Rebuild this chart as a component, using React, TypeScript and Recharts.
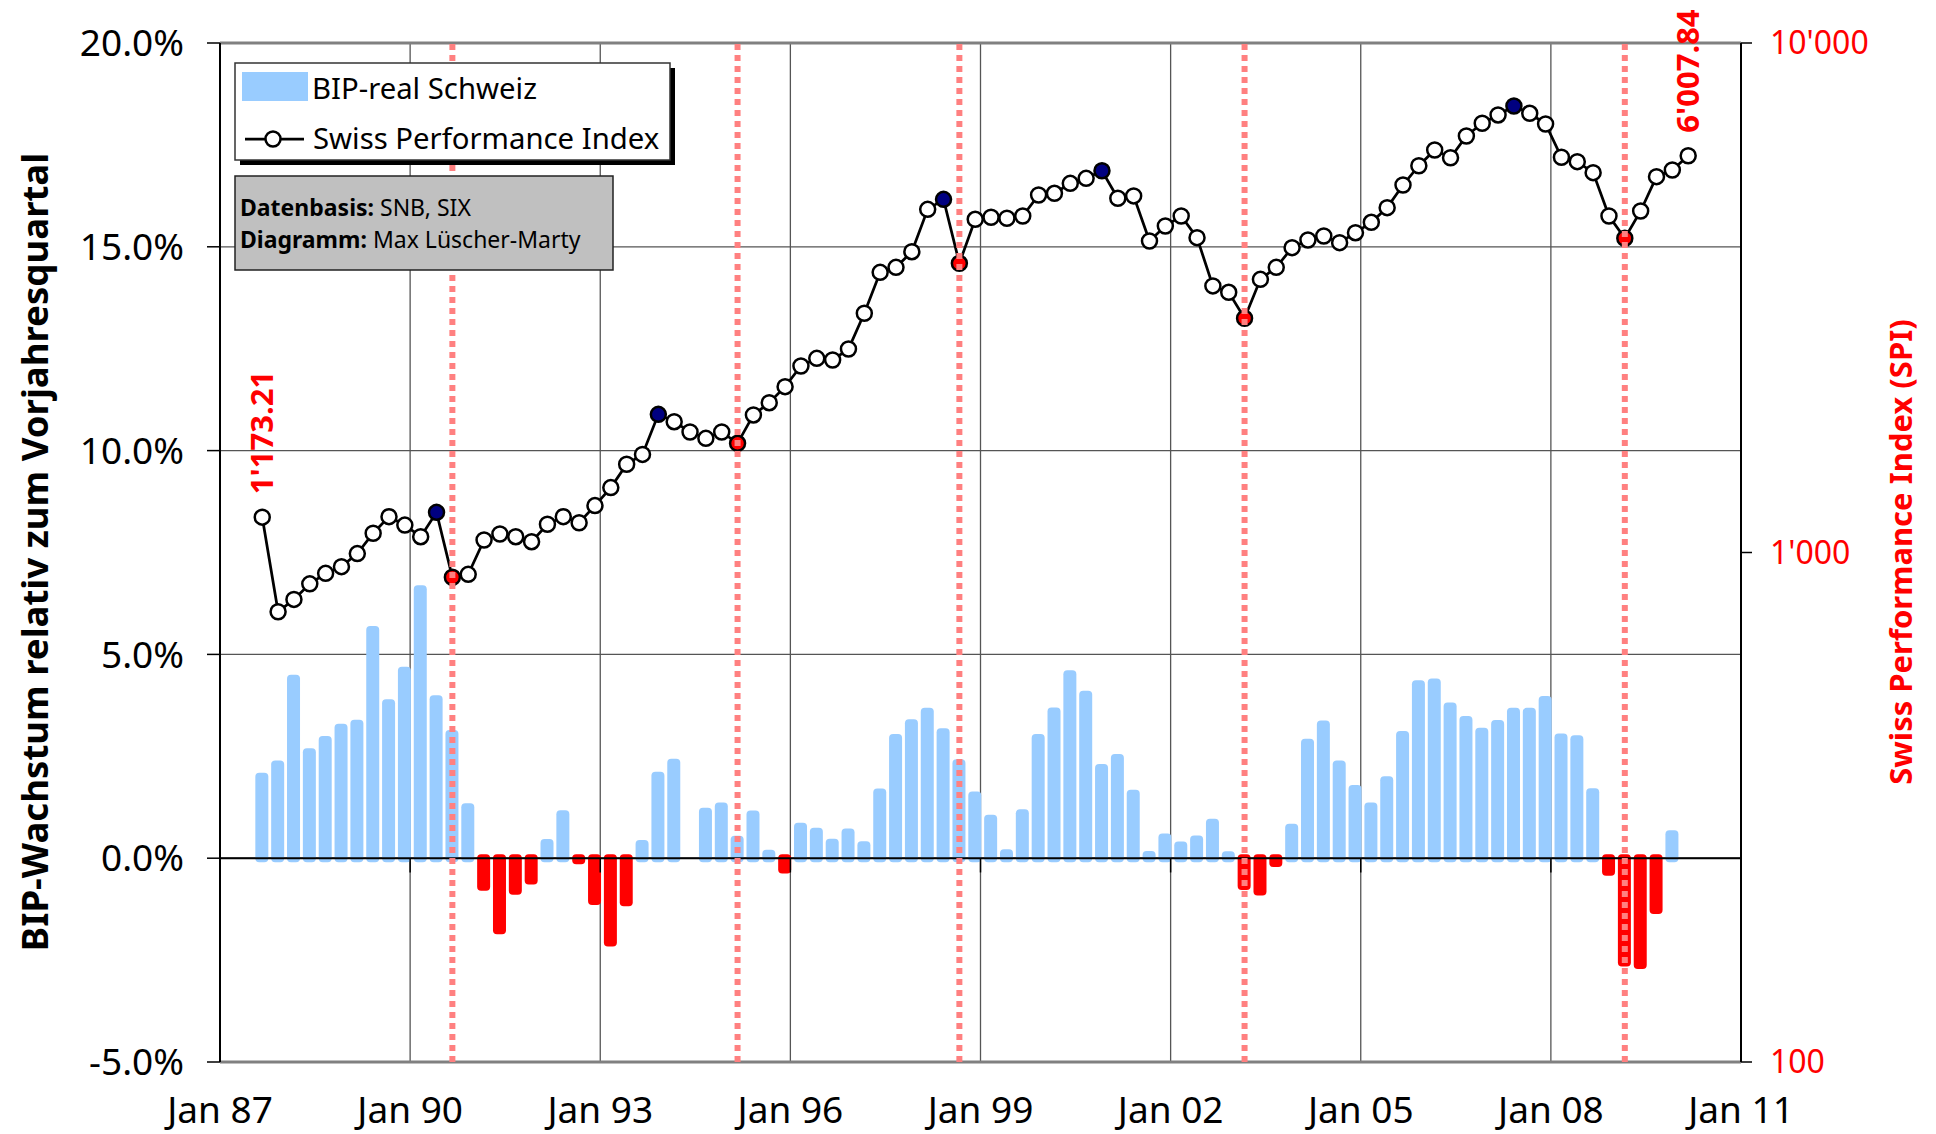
import React from "react";
import {
  Bar,
  CartesianGrid,
  ComposedChart,
  LabelList,
  Line,
  ReferenceLine,
  XAxis,
  YAxis
} from "recharts";

const FONT = "'Noto Sans', 'Open Sans', sans-serif";
const POS = "#99CCFF";
const NEG = "#FF0000";
const NAVY = "#000080";
const DASH = "#FF8080";

// first observation: Q3 1987, one point per quarter
const START = 1987 + 8 / 12;

// BIP-real Schweiz, Wachstum ggü. Vorjahresquartal in %
const gdpGrowth = [
  2.0, 2.3, 4.4, 2.6, 2.9, 3.2, 3.3, 5.6, 3.8, 4.6,
  6.6, 3.9, 3.05, 1.25, -0.7, -1.77, -0.8, -0.55, 0.37, 1.08,
  -0.05, -1.05, -2.07, -1.08, 0.35, 2.02, 2.34, 0, 1.14, 1.27,
  0.45, 1.07, 0.11, -0.28, 0.77, 0.65, 0.38, 0.63, 0.32, 1.61,
  2.95, 3.31, 3.59, 3.09, 2.33, 1.54, 0.97, 0.12, 1.1, 2.95,
  3.6, 4.51, 4.01, 2.21, 2.46, 1.58, 0.08, 0.51, 0.31, 0.46,
  0.87, 0.07, -0.68, -0.82, -0.12, 0.75, 2.83, 3.28, 2.3, 1.7,
  1.27, 1.91, 3.02, 4.27, 4.31, 3.72, 3.39, 3.1, 3.29, 3.59,
  3.59, 3.88, 2.96, 2.92, 1.62, -0.33, -2.56, -2.62, -1.27, 0.59
];

// Swiss Performance Index, Quartalsende
const spi = [
  1173.21, 765, 809, 868, 910, 938, 995, 1091, 1176, 1132,
  1074, 1199, 894, 906, 1058, 1087, 1074, 1050, 1136, 1176,
  1144, 1236, 1341, 1490, 1558, 1867, 1806, 1724, 1675, 1724,
  1638, 1862, 1968, 2116, 2323, 2405, 2387, 2508, 2948, 3547,
  3628, 3894, 4716, 4934, 3695, 4508, 4549, 4529, 4576, 5031,
  5070, 5303, 5424, 5614, 4957, 5010, 4087, 4373, 4576, 4149,
  3336, 3241, 2883, 3437, 3628, 3966, 4105, 4180, 4056, 4243,
  4447, 4752, 5264, 5743, 6166, 5954, 6569, 6957, 7224, 7521,
  7278, 6934, 5966, 5849, 5566, 4576, 4138, 4681, 5466, 5634,
  6007.84
];

const peakIdx = [11, 25, 43, 53, 79];
const troughIdx = [12, 30, 44, 62, 86];

const xTicks = [1987, 1990, 1993, 1996, 1999, 2002, 2005, 2008, 2011];
const pctTicks = [-5, 0, 5, 10, 15, 20];
const spiTicks = [100, 1000, 10000];

const data = spi.map((v, i) => ({
  t: START + i * 0.25,
  spi: v,
  gdp: i < gdpGrowth.length ? gdpGrowth[i] : null
}));

function swiss(v: number, digits = 0) {
  const [int, dec] = v.toFixed(digits).split(".");
  const grouped = int.replace(/\B(?=(\d{3})+(?!\d))/g, "'");
  return dec ? `${grouped}.${dec}` : grouped;
}

function GdpBar(props: any) {
  const { x, y, width, height, payload } = props;
  if (!payload || payload.gdp == null || payload.gdp === 0) return null;
  const top = Math.min(y, y + height);
  const h = Math.abs(height);
  return (
    <rect
      x={x - 2}
      y={top - 4}
      width={width + 4}
      height={h + 8}
      rx={4}
      fill={payload.gdp < 0 ? NEG : POS}
    />
  );
}

function SpiDot(props: any) {
  const { cx, cy, index } = props;
  const fill = peakIdx.includes(index) ? NAVY : troughIdx.includes(index) ? NEG : "#fff";
  return <circle key={`d${index}`} cx={cx} cy={cy} r={7.5} fill={fill} stroke="#000" strokeWidth={2.5} />;
}

function EndLabel(props: any) {
  const { x, y, value } = props;
  if (value !== spi[0] && value !== spi[spi.length - 1]) return null;
  return (
    <text
      transform={`translate(${x},${y - 23}) rotate(-90)`}
      dy="0.36em"
      textAnchor="start"
      fill={NEG}
      fontSize={31}
      fontWeight="bold"
      fontFamily={FONT}
    >
      {swiss(value, 2)}
    </text>
  );
}

export default function App() {
  return (
    <div style={{ position: "absolute", left: 0, top: 0, width: 1936, height: 1134, background: "#fff", fontFamily: FONT }}>
      <ComposedChart width={1936} height={1134} data={data} margin={{ top: 43, right: 20, left: 20, bottom: 0 }}>
        <CartesianGrid yAxisId="left" stroke="#555" strokeWidth={1.3} />
        <XAxis
          dataKey="t"
          type="number"
          domain={[1987, 2011]}
          ticks={xTicks}
          interval={0}
          tickFormatter={(v) => `Jan ${String(v).slice(2)}`}
          height={72}
          tickLine={false}
          tickMargin={29}
          axisLine={{ stroke: "#808080", strokeWidth: 3 }}
          tick={{ fill: "#000", fontSize: 37, fontFamily: FONT }}
          allowDataOverflow
        />
        <YAxis
          yAxisId="left"
          domain={[-5, 20]}
          ticks={pctTicks}
          interval={0}
          tickFormatter={(v) => `${Number(v).toFixed(1)}%`}
          width={200}
          tickSize={13}
          tickMargin={23}
          axisLine={{ stroke: "#000", strokeWidth: 2 }}
          tickLine={{ stroke: "#000", strokeWidth: 1.5 }}
          tick={{ fill: "#000", fontSize: 37, fontFamily: FONT }}
          allowDataOverflow
        />
        <YAxis
          yAxisId="right"
          orientation="right"
          scale="log"
          domain={[100, 10000]}
          ticks={spiTicks}
          interval={0}
          tickFormatter={(v) => swiss(Number(v))}
          width={175}
          tickSize={11}
          tickMargin={18}
          axisLine={{ stroke: "#000", strokeWidth: 2 }}
          tickLine={{ stroke: "#000", strokeWidth: 1.5 }}
          tick={{ fill: NEG, fontSize: 32, fontFamily: FONT }}
          allowDataOverflow
        />
        <ReferenceLine yAxisId="left" y={20} stroke="#808080" strokeWidth={3} />
        <Bar yAxisId="left" dataKey="gdp" barSize={9} shape={GdpBar} isAnimationActive={false} />
        <ReferenceLine yAxisId="left" y={0} stroke="#000" strokeWidth={2} />
        {xTicks.slice(1, -1).map((t) => (
          <ReferenceLine
            key={`tick${t}`}
            yAxisId="left"
            segment={[{ x: t, y: 0 }, { x: t, y: -0.35 }]}
            stroke="#000"
            strokeWidth={1.5}
          />
        ))}
        <Line
          yAxisId="right"
          dataKey="spi"
          type="linear"
          stroke="#000"
          strokeWidth={2.75}
          dot={SpiDot}
          activeDot={false}
          isAnimationActive={false}
        >
          <LabelList dataKey="spi" content={EndLabel} />
        </Line>
        {troughIdx.map((i) => (
          <ReferenceLine
            key={`tr${i}`}
            yAxisId="left"
            x={data[i].t}
            stroke={DASH}
            strokeWidth={6}
            strokeDasharray="6 5"
            zIndex={600}
          />
        ))}
      </ComposedChart>
      <svg
        width={1936}
        height={1134}
        style={{ position: "absolute", left: 0, top: 0, pointerEvents: "none" }}
        fontFamily={FONT}
      >
        <rect x={240} y={68} width={435} height={97} fill="#000" />
        <rect x={235} y={63} width={435} height={97} fill="#fff" stroke="#333" strokeWidth={1.5} />
        <rect x={242} y={72} width={66} height={29} fill={POS} />
        <text x={312} y={99} fontSize={29.3} fill="#000">BIP-real Schweiz</text>
        <line x1={245} x2={304} y1={139} y2={139} stroke="#000" strokeWidth={2.75} />
        <circle cx={273} cy={139} r={7.5} fill="#fff" stroke="#000" strokeWidth={2.5} />
        <text x={313} y={149} fontSize={29.3} fill="#000">Swiss Performance Index</text>

        <rect x={235} y={176} width={378} height={94} fill="#C0C0C0" stroke="#222" strokeWidth={1.5} />
        <text x={240} y={216} fontSize={23} fill="#000">
          <tspan fontWeight="bold">Datenbasis:</tspan> SNB, SIX
        </text>
        <text x={240} y={248} fontSize={23} fill="#000">
          <tspan fontWeight="bold">Diagramm:</tspan> Max Lüscher-Marty
        </text>

        <text
          transform="translate(35,552) rotate(-90)"
          dy="0.36em"
          textAnchor="middle"
          fontSize={36.6}
          fontWeight="bold"
          fill="#000"
        >
          BIP-Wachstum relativ zum Vorjahresquartal
        </text>
        <text
          transform="translate(1901,552) rotate(-90)"
          dy="0.36em"
          textAnchor="middle"
          fontSize={31}
          fontWeight="bold"
          fill={NEG}
        >
          Swiss Performance Index (SPI)
        </text>
      </svg>
    </div>
  );
}
